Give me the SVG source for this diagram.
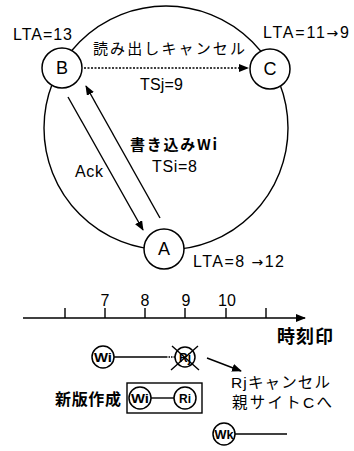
<svg xmlns="http://www.w3.org/2000/svg" width="354" height="451" viewBox="0 0 354 451">
<style>
.ln{fill:none;stroke:#000;stroke-width:1.4}
.nd{fill:#fff;stroke:#000;stroke-width:1.5}
.t{font-family:"Liberation Sans","Noto Sans CJK JP",sans-serif;font-size:16px;fill:#000}
.j{font-family:"Noto Sans CJK JP","Liberation Sans",sans-serif;font-size:15px;fill:#000}
.b{font-weight:bold}
.ar{font-family:"DejaVu Sans",sans-serif;font-size:14px}
.s{font-family:"Liberation Sans",sans-serif;font-size:12px;fill:#000;font-weight:bold}
</style>
<defs>
<marker id="ah" markerWidth="10" markerHeight="8" refX="9" refY="4" orient="auto" markerUnits="userSpaceOnUse">
<path d="M0,0 L10,4 L0,8 Z" fill="#000"/>
</marker>
</defs>
<rect width="354" height="451" fill="#fff"/>
<g id="ring"><circle class="ln" cx="166" cy="128" r="122"/></g>
<g id="connectors">
<line class="ln" x1="84" y1="68" x2="248" y2="68" stroke-dasharray="2,1.5" marker-end="url(#ah)"/>
<line class="ln" x1="68" y1="97" x2="143" y2="230" marker-end="url(#ah)"/>
<line class="ln" x1="160" y1="218" x2="86" y2="86" marker-end="url(#ah)"/>
<line class="ln" x1="23" y1="318" x2="305" y2="318" marker-end="url(#ah)"/>
<line class="ln" x1="207" y1="358" x2="241" y2="371" marker-end="url(#ah)"/>
</g>
<g id="B"><circle class="nd" cx="62" cy="68" r="20"/><text class="t" x="62" y="74" text-anchor="middle" style="font-size:18px">B</text></g>
<g id="C"><circle class="nd" cx="270" cy="69" r="20"/><text class="t" x="270" y="75" text-anchor="middle" style="font-size:18px">C</text></g>
<g id="A"><circle class="nd" cx="164" cy="249" r="20"/><text class="t" x="164" y="255" text-anchor="middle" style="font-size:18px">A</text></g>
<g id="labels">
<text class="t" x="13" y="40" textLength="59">LTA=13</text>
<text class="t" x="263" y="38" textLength="86">LTA=11<tspan class="ar">→</tspan>9</text>
<text class="t" x="193" y="267" textLength="91">LTA=8 <tspan class="ar">→</tspan>12</text>
<text class="j" x="93" y="54" textLength="152">読み出しキャンセル</text>
<text class="t" x="140" y="90" textLength="43">TSj=9</text>
<text class="j b" x="130" y="150" textLength="87">書き込みWi</text>
<text class="t" x="152" y="172" textLength="45">TSi=8</text>
<text class="t" x="75" y="177" textLength="28">Ack</text>
</g>
<g id="axis">
<g class="ln"><line x1="65" y1="308" x2="65" y2="318"/><line x1="105" y1="308" x2="105" y2="318"/><line x1="145" y1="308" x2="145" y2="318"/><line x1="185" y1="308" x2="185" y2="318"/><line x1="226" y1="308" x2="226" y2="318"/><line x1="266" y1="308" x2="266" y2="318"/></g>
<text class="t" x="105" y="306" text-anchor="middle">7</text>
<text class="t" x="145" y="306" text-anchor="middle">8</text>
<text class="t" x="186" y="306" text-anchor="middle">9</text>
<text class="t" x="227" y="306" text-anchor="middle">10</text>
<text class="j b" x="277" y="343" style="font-size:18px" textLength="56">時刻印</text>
</g>
<g id="Wi1">
<line class="ln" x1="114" y1="357" x2="166" y2="357"/>
<line class="ln" x1="166" y1="357" x2="176" y2="357" stroke-dasharray="1.5,1"/>
<circle class="nd" cx="103" cy="357" r="11"/><text class="s" x="103" y="362" text-anchor="middle" textLength="18" lengthAdjust="spacingAndGlyphs">Wi</text>
</g>
<g id="Rj1">
<circle class="nd" cx="185" cy="357" r="10"/><text class="s" x="185" y="362" text-anchor="middle">Rj</text>
<path class="ln" d="M172,346 L199,370 M198,346 L171,370" stroke-width="2.2"/>
</g>
<g id="cancel">
<text class="t" x="231" y="388" style="font-size:15.5px" textLength="99">Rjキャンセル</text>
<text class="t" x="232" y="408" style="font-size:15.5px" textLength="100">親サイトCへ</text>
</g>
<g id="newver">
<text class="j b" x="55" y="405" style="font-size:16px" textLength="66">新版作成</text>
<rect class="ln" x="127" y="383" width="75" height="30"/>
<line class="ln" x1="151" y1="398" x2="174" y2="398"/>
<circle class="nd" cx="140" cy="398" r="11"/><text class="s" x="140" y="403" text-anchor="middle" textLength="18" lengthAdjust="spacingAndGlyphs">Wi</text>
<circle class="nd" cx="185" cy="398" r="11"/><text class="s" x="185" y="403" text-anchor="middle">Ri</text>
</g>
<g id="Wk">
<line class="ln" x1="235" y1="434" x2="287" y2="434"/>
<circle class="nd" cx="224" cy="434" r="11"/><text class="s" x="224" y="439" text-anchor="middle" textLength="19" lengthAdjust="spacingAndGlyphs">Wk</text>
</g>
</svg>
